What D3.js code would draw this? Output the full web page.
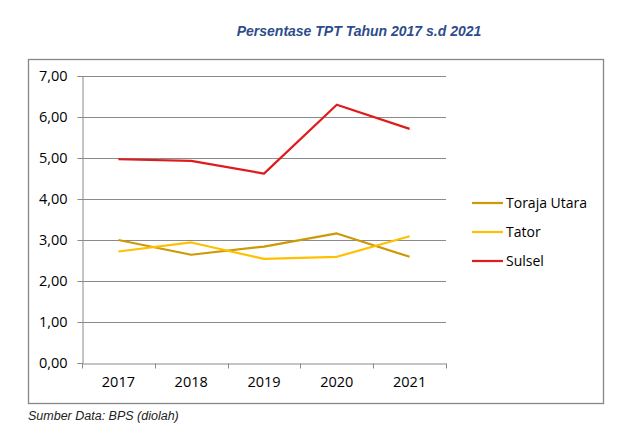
<!DOCTYPE html>
<html>
<head>
<meta charset="utf-8">
<script src="https://cdn.jsdelivr.net/npm/d3@7"></script>
<style>
    body { margin: 0; background: #fff; }
    svg { display: block; }
</style>
</head>
<body>
<div id="chart"></div>
<script>
// Data
const years = ["2017", "2018", "2019", "2020", "2021"];
const torajaUtara = [3.00, 2.64, 2.84, 3.16, 2.59];
const tator = [2.72, 2.94, 2.54, 2.59, 3.09];
const sulsel = [4.97, 4.93, 4.62, 6.30, 5.71];
const seriesNames = ["Toraja Utara", "Tator", "Sulsel"];
const seriesColors = ["#CC9A06", "#FFC000", "#E01B1B"];
const yTicks = [0, 1, 2, 3, 4, 5, 6, 7];

const series = [torajaUtara, tator, sulsel].map((vals, i) => ({
    name: seriesNames[i],
    color: seriesColors[i],
    values: vals.map((v, j) => ({year: years[j], value: v}))
}));

const W = 636, H = 442;
const plot = {left: 82, right: 446, top: 76, bottom: 363};
const tickFont = "'Open Sans', 'Noto Sans', sans-serif";

const svg = d3.select("#chart").append("svg")
    .attr("width", W)
    .attr("height", H);

// Title
svg.append("text")
    .attr("x", 359)
    .attr("y", 36)
    .attr("text-anchor", "middle")
    .attr("font-family", "Arial, 'Liberation Sans', sans-serif")
    .attr("font-size", 14)
    .attr("font-weight", "bold")
    .attr("font-style", "italic")
    .attr("fill", "#2E4D8A")
    .text("Persentase TPT Tahun 2017 s.d 2021");

// Outer frame
svg.append("rect")
    .attr("x", 28.5)
    .attr("y", 59.5)
    .attr("width", 575)
    .attr("height", 344)
    .attr("fill", "none")
    .attr("stroke", "#878787")
    .attr("stroke-width", 1.3);

// Scales
const x = d3.scaleBand()
    .domain(years)
    .range([plot.left, plot.right]);

const y = d3.scaleLinear()
    .domain([0, 7])
    .range([plot.bottom, plot.top]);

// Gridlines
svg.append("g")
    .selectAll("line")
    .data(yTicks.filter(d => d > 0))
    .join("line")
    .attr("x1", plot.left)
    .attr("x2", plot.right)
    .attr("y1", d => Math.round(y(d)) + 0.5)
    .attr("y2", d => Math.round(y(d)) + 0.5)
    .attr("stroke", "#8a8a8a")
    .attr("stroke-width", 1);

// Y axis
const yAxis = svg.append("g")
    .attr("transform", `translate(${plot.left + 0.5},0)`)
    .call(d3.axisLeft(y)
        .tickValues(yTicks)
        .tickSize(5)
        .tickPadding(10)
        .tickFormat(d => d3.format(".2f")(d).replace(".", ",")));

// X axis with ticks at category boundaries
const xAxis = svg.append("g")
    .attr("transform", `translate(0,${Math.round(y(0)) + 0.5})`)
    .call(d3.axisBottom(x).tickSize(0).tickPadding(13));

xAxis.selectAll(".boundary")
    .data(years.map(d => x(d)).concat([x.range()[1]]))
    .join("line")
    .attr("class", "boundary")
    .attr("x1", d => Math.round(d) + 0.5)
    .attr("x2", d => Math.round(d) + 0.5)
    .attr("y1", 0)
    .attr("y2", 5)
    .attr("stroke", "#8a8a8a");

[yAxis, xAxis].forEach(ax => {
    ax.select(".domain").attr("stroke", "#8a8a8a");
    ax.selectAll(".tick line").attr("stroke", "#8a8a8a");
    ax.selectAll(".tick text")
        .attr("font-family", tickFont)
        .attr("font-size", 14.5)
        .attr("fill", "#000");
});

// Lines
const line = d3.line()
    .x(d => x(d.year) + x.bandwidth() / 2)
    .y(d => y(d.value));

svg.append("g")
    .selectAll("path")
    .data(series)
    .join("path")
    .attr("d", d => line(d.values))
    .attr("fill", "none")
    .attr("stroke", d => d.color)
    .attr("stroke-width", 2.2)
    .attr("stroke-linejoin", "round");

// Legend
const legend = svg.append("g")
    .attr("transform", "translate(472,203)");

const item = legend.selectAll("g")
    .data(series)
    .join("g")
    .attr("transform", (d, i) => `translate(0,${i * 29})`);

item.append("line")
    .attr("x1", 0)
    .attr("x2", 31)
    .attr("stroke", d => d.color)
    .attr("stroke-width", 2.2);

item.append("text")
    .attr("x", 34)
    .attr("dy", "0.35em")
    .attr("font-family", tickFont)
    .attr("font-size", 14)
    .attr("fill", "#000")
    .text(d => d.name);

// Source note
svg.append("text")
    .attr("x", 28)
    .attr("y", 420)
    .attr("font-family", "Arial, 'Liberation Sans', sans-serif")
    .attr("font-size", 12.5)
    .attr("font-style", "italic")
    .attr("fill", "#222")
    .text("Sumber Data: BPS (diolah)");
</script>
</body>
</html>
